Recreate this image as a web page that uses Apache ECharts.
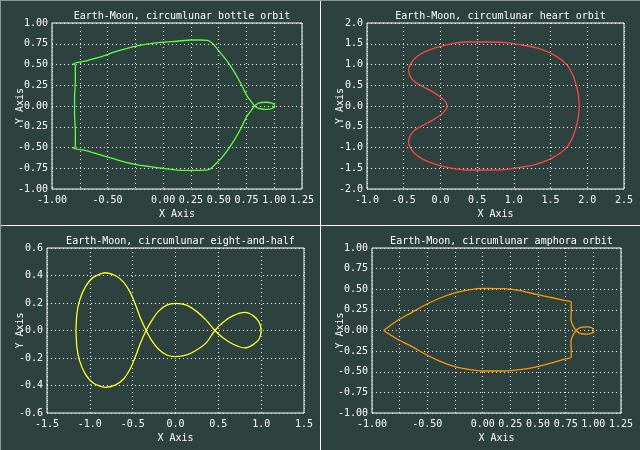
<!DOCTYPE html>
<html>
<head>
<meta charset="utf-8">
<script src="https://cdn.jsdelivr.net/npm/echarts@6/dist/echarts.min.js"></script>
<style>
html,body{margin:0;padding:0;background:#2d413f;}
#c{width:640px;height:450px;}
</style>
</head>
<body>
<div id="c"></div>
<script>
// ---- Data ----
const titles = [
  'Earth-Moon, circumlunar bottle orbit',
  'Earth-Moon, circumlunar heart orbit',
  'Earth-Moon, circumlunar eight-and-half',
  'Earth-Moon, circumlunar amphora orbit'
];

// Bottle orbit
const bottleX = [0.822,0.79,0.756,0.725,0.696,0.636,0.576,0.516,0.456,0.425,0.40,0.336,0.246,0.126,0,-0.174,-0.264,-0.414,-0.564,-0.684,-0.81,-0.79,-0.79,-0.797,-0.797,-0.79,-0.79,-0.81,-0.684,-0.564,-0.414,-0.264,-0.174,0,0.126,0.246,0.336,0.40,0.425,0.456,0.516,0.576,0.636,0.696,0.725,0.756,0.79,0.822,0.86,0.92,0.98,1.004,0.98,0.92,0.86,0.822];
const bottleY = [0,0.06,0.12,0.2,0.28,0.42,0.54,0.64,0.74,0.775,0.79,0.795,0.795,0.78,0.77,0.74,0.716,0.66,0.592,0.548,0.508,0.49,0.3,0.1,-0.1,-0.3,-0.49,-0.505,-0.54,-0.59,-0.648,-0.70,-0.72,-0.752,-0.772,-0.775,-0.775,-0.77,-0.76,-0.72,-0.64,-0.54,-0.42,-0.28,-0.2,-0.12,-0.06,0,0.035,0.045,0.035,0.005,-0.03,-0.04,-0.03,0];

// Heart orbit
const heartX = [1.892,1.875,1.856,1.81,1.72,1.538,1.311,1.085,0.858,0.632,0.36,0.178,-0.048,-0.229,-0.343,-0.411,-0.433,-0.411,-0.343,-0.229,-0.116,-0.025,0.043,0.079,0.088,0.079,0.043,-0.025,-0.116,-0.229,-0.343,-0.411,-0.433,-0.411,-0.343,-0.229,-0.048,0.178,0.36,0.632,0.858,1.085,1.311,1.538,1.72,1.81,1.856,1.875,1.892];
const heartY = [0,0.3,0.458,0.715,0.996,1.237,1.398,1.478,1.534,1.542,1.542,1.51,1.414,1.293,1.157,0.996,0.876,0.715,0.57,0.458,0.353,0.249,0.153,0.072,0,-0.072,-0.153,-0.249,-0.353,-0.458,-0.57,-0.715,-0.876,-0.996,-1.157,-1.293,-1.414,-1.51,-1.542,-1.542,-1.534,-1.478,-1.398,-1.237,-0.996,-0.715,-0.458,-0.3,0];

// Eight-and-half orbit
const eightX = [-1.162,-1.151,-1.12,-1.054,-0.957,-0.821,-0.704,-0.607,-0.53,-0.471,-0.413,-0.343,-0.277,-0.2,-0.103,0,0.13,0.246,0.363,0.46,0.557,0.673,0.809,0.906,0.976,1.0,0.976,0.906,0.809,0.673,0.557,0.46,0.363,0.246,0.13,0,-0.103,-0.2,-0.277,-0.343,-0.413,-0.471,-0.53,-0.607,-0.704,-0.821,-0.957,-1.054,-1.12,-1.151,-1.162];
const eightY = [0,0.121,0.218,0.315,0.388,0.42,0.4,0.352,0.279,0.194,0.097,0,-0.074,-0.135,-0.178,-0.19,-0.178,-0.142,-0.086,0,0.06,0.108,0.132,0.108,0.06,0,-0.062,-0.103,-0.127,-0.1,-0.055,0,0.072,0.139,0.185,0.198,0.185,0.139,0.072,0,-0.098,-0.195,-0.28,-0.353,-0.397,-0.413,-0.384,-0.316,-0.219,-0.122,0];

// Amphora orbit
const amphoraX = [-0.895,-0.774,-0.654,-0.504,-0.384,-0.251,-0.113,0,0.188,0.339,0.498,0.64,0.748,0.80,0.80,0.798,0.815,0.844,0.88,0.94,0.99,1.0,0.99,0.94,0.88,0.844,0.815,0.798,0.80,0.80,0.748,0.64,0.498,0.339,0.188,0,-0.113,-0.251,-0.384,-0.504,-0.654,-0.774,-0.895];
const amphoraY = [0,0.119,0.208,0.321,0.394,0.455,0.495,0.511,0.507,0.483,0.434,0.394,0.362,0.346,0.24,0.13,0.06,0,-0.035,-0.045,-0.03,0,0.03,0.045,0.035,0,-0.06,-0.13,-0.24,-0.325,-0.345,-0.386,-0.438,-0.475,-0.491,-0.491,-0.475,-0.438,-0.374,-0.297,-0.184,-0.103,0];

// Tick labels
const xTicks1 = ['-1.00','','-0.50','','0.00','0.25','0.50','0.75','1.00','1.25'];
const yTicks1 = ['-1.00','-0.75','-0.50','-0.25','0.00','0.25','0.50','0.75','1.00'];
const xTicks2 = ['-1.0','-0.5','0.0','0.5','1.0','1.5','2.0','2.5'];
const yTicks2 = ['-2.0','-1.5','-1.0','-0.5','0.0','0.5','1.0','1.5','2.0'];
const xTicks3 = ['-1.5','-1.0','-0.5','0.0','0.5','1.0','1.5'];
const yTicks3 = ['-0.6','-0.4','-0.2','-0.0','0.2','0.4','0.6'];
const xTicks4 = ['-1.00','','-0.50','','0.00','0.25','0.50','0.75','1.00','1.25'];
const yTicks4 = ['-1.00','-0.75','-0.50','-0.25','0.00','0.25','0.50','0.75','1.00'];

const colors = ['#5cff3c', '#ff4444', '#ffff22', '#ff9900'];

// ---- Chart ----
const FONT = 'DejaVu Sans Mono';
const FS = 10;
const BG = '#2d413f';

const grids = [
  {left: 52, top: 23, width: 250, height: 166},
  {left: 367, top: 23, width: 257, height: 166},
  {left: 47, top: 248, width: 257, height: 165},
  {left: 372, top: 248, width: 249, height: 165}
];
const yNameGaps = [27, 22, 22, 27];
const xr = [[-1, 1.25, 0.25], [-1, 2.5, 0.5], [-1.5, 1.5, 0.5], [-1, 1.25, 0.25]];
const yr = [[-1, 1, 0.25], [-2, 2, 0.5], [-0.6, 0.6, 0.2], [-1, 1, 0.25]];
const xt = [xTicks1, xTicks2, xTicks3, xTicks4];
const yt = [yTicks1, yTicks2, yTicks3, yTicks4];
const xs = [bottleX, heartX, eightX, amphoraX];
const ys = [bottleY, heartY, eightY, amphoraY];

function lbl(arr, min, step) {
  return function (v) {
    const i = Math.round((v - min) / step);
    return arr[i] !== undefined ? arr[i] : '';
  };
}
const split = {show: true, lineStyle: {color: '#ffffff', width: 1, type: [1, 3]}};

const option = {
  animation: false,
  backgroundColor: BG,
  title: grids.map((g, i) => ({
    text: titles[i],
    left: g.left + g.width / 2,
    top: g.top - 17,
    textAlign: 'center',
    textStyle: {color: '#ffffff', fontFamily: FONT, fontSize: FS, fontWeight: 'normal'}
  })),
  grid: grids.map(g => Object.assign({show: true, borderColor: '#ffffff', borderWidth: 1, backgroundColor: 'transparent', containLabel: false}, g)),
  xAxis: grids.map((g, i) => ({
    type: 'value', gridIndex: i, min: xr[i][0], max: xr[i][1], interval: xr[i][2],
    axisLine: {show: false}, axisTick: {show: false}, splitLine: split,
    axisLabel: {color: '#ffffff', fontFamily: FONT, fontSize: FS, margin: 6, showMinLabel: true, showMaxLabel: true, hideOverlap: false,
      formatter: lbl(xt[i], xr[i][0], xr[i][2])},
    name: 'X Axis', nameLocation: 'middle', nameGap: 20, nameMoveOverlap: false,
    nameTextStyle: {color: '#ffffff', fontFamily: FONT, fontSize: FS}
  })),
  yAxis: grids.map((g, i) => ({
    type: 'value', gridIndex: i, min: yr[i][0], max: yr[i][1], interval: yr[i][2],
    axisLine: {show: false}, axisTick: {show: false}, splitLine: split,
    axisLabel: {color: '#ffffff', fontFamily: FONT, fontSize: FS, margin: 4, showMinLabel: true, showMaxLabel: true, hideOverlap: false,
      formatter: lbl(yt[i], yr[i][0], yr[i][2])},
    name: 'Y Axis', nameLocation: 'middle', nameGap: yNameGaps[i], nameMoveOverlap: false,
    nameTextStyle: {color: '#ffffff', fontFamily: FONT, fontSize: FS}
  })),
  series: xs.map((xa, i) => ({
    type: 'line', xAxisIndex: i, yAxisIndex: i,
    data: xa.map((x, j) => [x, ys[i][j]]),
    showSymbol: false, smooth: 0.25, silent: true,
    lineStyle: {color: colors[i], width: 1.3}
  })),
  graphic: [
    {type: 'line', shape: {x1: 320.5, y1: 0, x2: 320.5, y2: 450}, style: {stroke: '#ffffff', lineWidth: 1}},
    {type: 'line', shape: {x1: 0, y1: 225.5, x2: 640, y2: 225.5}, style: {stroke: '#ffffff', lineWidth: 1}},
    {type: 'line', shape: {x1: 0.5, y1: 0, x2: 0.5, y2: 450}, style: {stroke: '#8a9896', lineWidth: 1}},
    {type: 'line', shape: {x1: 0, y1: 0.5, x2: 640, y2: 0.5}, style: {stroke: '#8a9896', lineWidth: 1}}
  ]
};

const chart = echarts.init(document.getElementById('c'), null, {renderer: 'canvas'});
chart.setOption(option);
</script>
</body>
</html>
